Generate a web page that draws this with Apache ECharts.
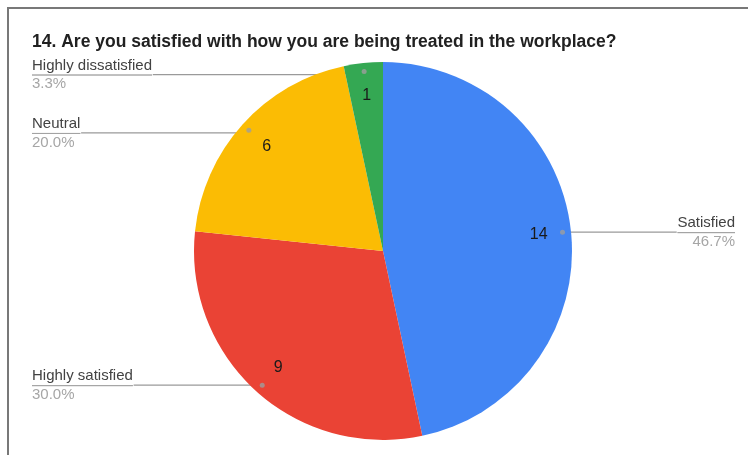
<!DOCTYPE html>
<html>
<head>
<meta charset="utf-8">
<script src="https://cdn.jsdelivr.net/npm/echarts@6/dist/echarts.min.js"></script>
<style>
  html, body { margin: 0; padding: 0; background: #fff; }
  #chart { position: absolute; left: 0; top: 0; width: 748px; height: 455px; }
  #frame { position: absolute; left: 7px; top: 7px; right: -10px; bottom: -10px;
           border-left: 2px solid #787878; border-top: 2px solid #787878; pointer-events: none; }
</style>
</head>
<body>
<div id="chart"></div>
<div id="frame"></div>
<script>
// Survey answers, clockwise from 12 o'clock
const categories = ['Satisfied', 'Highly satisfied', 'Neutral', 'Highly dissatisfied'];
const counts = [14, 9, 6, 1];
const sliceColors = ['#4285F4', '#EA4335', '#FBBC04', '#34A853'];
const titleText = '14. Are you satisfied with how you are being treated in the workplace?';

const total = counts.reduce((a, b) => a + b, 0);
const pieData = categories.map((name, i) => ({ name, value: counts[i] }));

// midpoint of each slice along the angle axis (in count units)
const midpoints = [];
let run = 0;
counts.forEach(c => { midpoints.push(run + c / 2); run += c; });

const CX = 383, CY = 251, R = 189;
const LABEL_TOP = 57;      // callouts stay below the title
const clear = { color: 'rgba(0,0,0,0)' };
const fontFamily = 'Liberation Sans, Arial, sans-serif';

const chart = echarts.init(document.getElementById('chart'), null, { renderer: 'canvas' });
chart.setOption({
  animation: false,
  textStyle: { fontFamily },
  title: {
    text: titleText,
    left: 32, top: 33, padding: 0,
    textStyle: { fontSize: 17.5, fontWeight: 'bold', color: '#212121', fontFamily }
  },
  polar: { center: [CX, CY], radius: R },
  angleAxis: { type: 'value', min: 0, max: total, startAngle: 90, clockwise: true, show: false },
  radiusAxis: { type: 'value', min: 0, max: 1, show: false },
  series: [
    {
      // the slices themselves
      type: 'pie',
      center: [CX, CY],
      radius: [0, R],
      startAngle: 90,
      clockwise: true,
      silent: true,
      data: pieData.map((d, i) => ({ ...d, itemStyle: { color: sliceColors[i] } })),
      itemStyle: { borderWidth: 0 },
      label: { show: false },
      labelLine: { show: false },
      emphasis: { disabled: true }
    },
    {
      // count labels sitting inside each slice
      type: 'pie',
      center: [CX, CY],
      radius: [118, R],
      startAngle: 90,
      clockwise: true,
      silent: true,
      data: pieData,
      itemStyle: clear,
      label: {
        show: true, position: 'inside', formatter: '{c}',
        fontSize: 16, color: '#1a1a1a', fontFamily
      },
      labelLine: { show: false },
      emphasis: { disabled: true }
    },
    {
      // name / percentage callouts pulled to the chart edges
      type: 'pie',
      left: 32, right: 13, top: LABEL_TOP, bottom: 0,
      center: [CX - 32, CY - LABEL_TOP],
      radius: [0, R * 0.955],
      startAngle: 90,
      clockwise: true,
      silent: true,
      avoidLabelOverlap: true,
      data: pieData,
      itemStyle: clear,
      label: {
        show: true,
        position: 'outside',
        alignTo: 'edge',
        edgeDistance: 0,
        distanceToLabelLine: 0,
        formatter: p => '{name|' + p.name + '}\n{hr|}\n{pct|' + (p.value / total * 100).toFixed(1) + '%}',
        rich: {
          name: { fontSize: 15, color: '#424242', lineHeight: 19, fontFamily },
          hr: { width: '100%', height: 0, borderWidth: 0.75, borderColor: '#9a9a9a' },
          pct: { fontSize: 15, color: '#a6a6a6', lineHeight: 18, fontFamily }
        }
      },
      labelLine: {
        show: true, length: 0.01, length2: 10, smooth: false,
        lineStyle: { color: '#9a9a9a', width: 1.25 }
      },
      emphasis: { disabled: true }
    },
    {
      // anchor dots where the callout lines start
      type: 'scatter',
      coordinateSystem: 'polar',
      silent: true,
      symbol: 'circle',
      symbolSize: 5,
      itemStyle: { color: '#9e9e9e' },
      data: midpoints.map(m => [0.955, m]),
      z: 5
    }
  ]
});
</script>
</body>
</html>
